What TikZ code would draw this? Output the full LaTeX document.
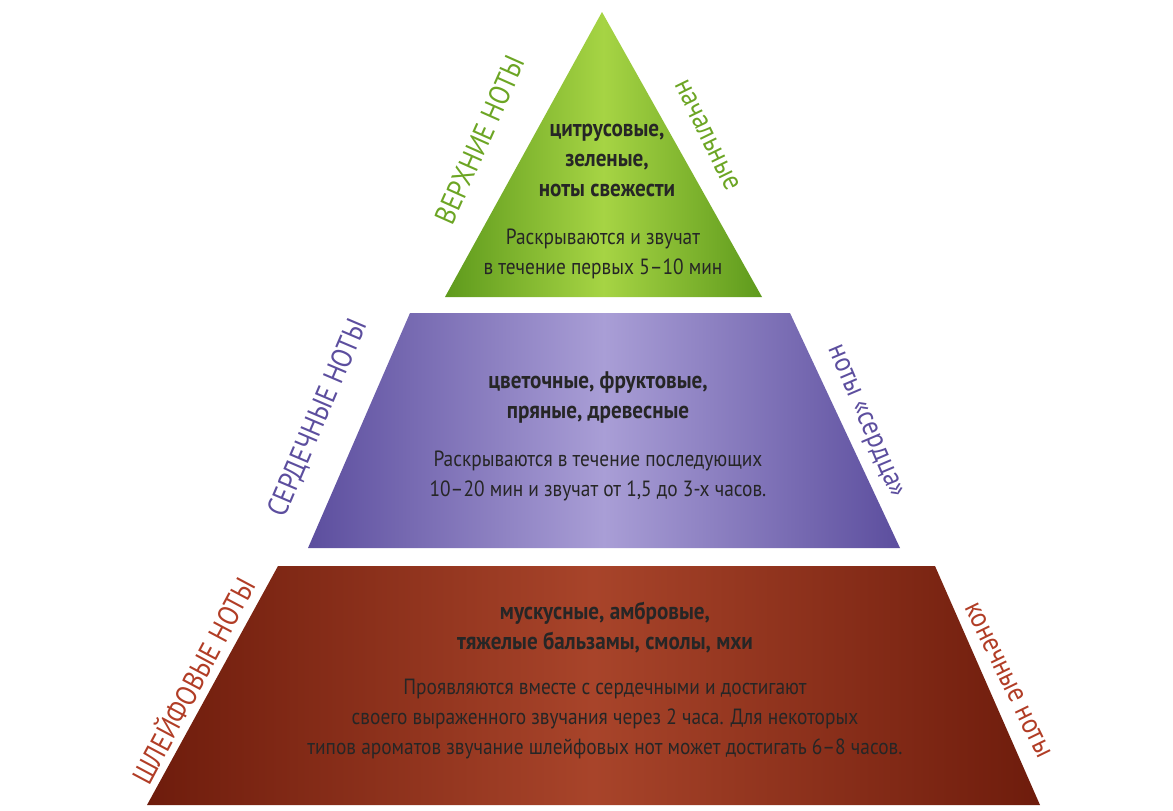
\documentclass[tikz,border=0pt]{standalone}
\usepackage{fontspec}
\setmainfont{PT Sans}[FakeStretch=0.88]
\begin{document}
\begin{tikzpicture}[x=1pt,y=-1pt,
  bold/.style={font=\bfseries\fontsize{24}{30}\selectfont,align=center,text=black!85},
  body/.style={font=\fontsize{22}{30}\selectfont,align=center,text=black!85},
  side/.style={font=\fontsize{29}{34}\selectfont}]
\useasboundingbox (0,0) rectangle (1173,811);
\definecolor{gD}{HTML}{5E9A1C}\definecolor{gL}{HTML}{A6D444}
\definecolor{pD}{HTML}{5C4E9E}\definecolor{pL}{HTML}{A99ED6}
\definecolor{rD}{HTML}{6E1C0C}\definecolor{rL}{HTML}{A8442A}
\shade[left color=gD,right color=gD,middle color=gL] (602,12) -- (762,297) -- (445,297) -- cycle;
\shade[left color=pD,right color=pD,middle color=pL] (410,313) -- (790,313) -- (900,548) -- (308,548) -- cycle;
\shade[left color=rD,right color=rD,middle color=rL] (278,566) -- (935,566) -- (1040,805) -- (147,805) -- cycle;
\node[bold] (t1) at (607,160) {цитрусовые,\\зеленые,\\ноты свежести};
\node[body] (t2) at (603,254) {Раскрываются и звучат\\в течение первых 5--10 мин};
\node[bold] (m1) at (598,397) {цветочные, фруктовые,\\пряные, древесные};
\node[body] (m2) at (598,476) {Раскрываются в течение последующих\\10--20 мин и звучат от 1,5 до 3-х часов.};
\node[bold] (b1) at (605,628) {мускусные, амбровые,\\тяжелые бальзамы, смолы, мхи};
\node[body] (b2) at (605,719) {Проявляются вместе с сердечными и достигают\\своего выраженного звучания через 2 часа. Для некоторых\\типов ароматов звучание шлейфовых нот может достигать 6--8 часов.};
\node[side,text=gD!80!gL,rotate=66] (s1) at (480,140) {ВЕРХНИЕ НОТЫ};
\node[side,text=gD!80!gL,rotate=-64] (s2) at (707,135) {начальные};
\node[side,text=pD,rotate=67] (s3) at (318,418) {СЕРДЕЧНЫЕ НОТЫ};
\node[side,text=pD,rotate=-67] (s4) at (864,422) {ноты «сердца»};
\node[side,text=rL!90!red,rotate=62] (s5) at (192,680) {ШЛЕЙФОВЫЕ НОТЫ};
\node[side,text=rL!90!red,rotate=-64] (s6) at (1008,680) {конечные ноты};
\end{tikzpicture}
\end{document}
